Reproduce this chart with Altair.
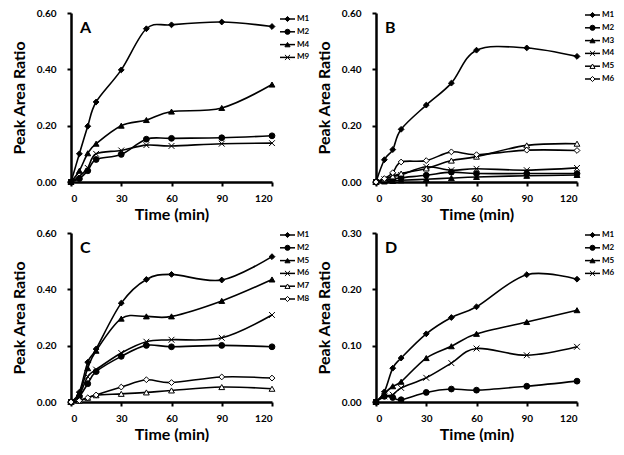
import altair as alt
import pandas as pd

TIME = [0, 5, 10, 15, 30, 45, 60, 90, 120]

# Panel A
A_NAMES = ["M1", "M2", "M4", "M9"]
A_STYLES = ["fdiamond", "fcircle", "ftriangle", "xcross"]
A_M1 = [0, 0.100, 0.198, 0.284, 0.398, 0.544, 0.558, 0.568, 0.552]
A_M2 = [0, 0.012, 0.040, 0.080, 0.098, 0.152, 0.155, 0.157, 0.164]
A_M4 = [0, 0.040, 0.102, 0.136, 0.200, 0.220, 0.250, 0.263, 0.346]
A_M9 = [0, 0.020, 0.050, 0.100, 0.112, 0.131, 0.128, 0.136, 0.138]

# Panel B
B_NAMES = ["M1", "M2", "M3", "M4", "M5", "M6"]
B_STYLES = ["fdiamond", "fcircle", "ftriangle", "xcross", "otriangle", "odiamond"]
B_M1 = [0, 0.079, 0.115, 0.187, 0.273, 0.351, 0.468, 0.476, 0.446]
B_M2 = [0, 0.005, 0.010, 0.015, 0.024, 0.035, 0.030, 0.030, 0.030]
B_M3 = [0, 0.002, 0.004, 0.006, 0.010, 0.014, 0.018, 0.022, 0.025]
B_M4 = [0, 0.010, 0.020, 0.025, 0.054, 0.042, 0.047, 0.042, 0.050]
B_M5 = [0, 0.010, 0.020, 0.030, 0.048, 0.076, 0.090, 0.130, 0.136]
B_M6 = [0, 0.012, 0.033, 0.071, 0.076, 0.107, 0.097, 0.113, 0.112]

# Panel C
C_NAMES = ["M1", "M2", "M5", "M6", "M7", "M8"]
C_STYLES = ["fdiamond", "fcircle", "ftriangle", "xcross", "otriangle", "odiamond"]
C_M1 = [0, 0.035, 0.141, 0.188, 0.351, 0.435, 0.453, 0.433, 0.516]
C_M2 = [0, 0.020, 0.065, 0.108, 0.162, 0.201, 0.196, 0.201, 0.196]
C_M5 = [0, 0.030, 0.120, 0.182, 0.296, 0.304, 0.304, 0.359, 0.435]
C_M6 = [0, 0.025, 0.090, 0.115, 0.174, 0.214, 0.221, 0.228, 0.309]
C_M7 = [0, 0.005, 0.015, 0.024, 0.029, 0.034, 0.041, 0.053, 0.047]
C_M8 = [0, 0.005, 0.015, 0.025, 0.053, 0.079, 0.069, 0.089, 0.085]

# Panel D
D_NAMES = ["M1", "M2", "M5", "M6"]
D_STYLES = ["fdiamond", "fcircle", "ftriangle", "xcross"]
D_M1 = [0, 0.018, 0.060, 0.078, 0.121, 0.150, 0.169, 0.226, 0.218]
D_M2 = [0, 0.010, 0.008, 0.004, 0.017, 0.023, 0.021, 0.028, 0.037]
D_M5 = [0, 0.015, 0.028, 0.036, 0.078, 0.099, 0.121, 0.142, 0.163]
D_M6 = [0, 0.010, 0.013, 0.025, 0.043, 0.069, 0.095, 0.083, 0.098]

Y_TICKS_06 = [0, 0.2, 0.4, 0.6]
Y_TICKS_03 = [0, 0.1, 0.2, 0.3]
X_TICKS = [0, 30, 60, 90, 120]

STYLE_KEYS = ["fdiamond", "fcircle", "ftriangle", "xcross", "otriangle", "odiamond"]
STYLE_SHAPES = ["diamond", "circle", "triangle-up", "M-1,-1L1,1M1,-1L-1,1", "triangle-up", "diamond"]
STYLE_FILLS = ["black", "black", "black", "white", "white", "white"]

FONT = "Lato"
W, H = 201, 169

AXIS_STYLE = dict(
    grid=False, domain=True, ticks=True,
    domainColor="black", domainWidth=2.5,
    tickColor="black", tickWidth=2, tickSize=4,
    labelFont=FONT, labelFontWeight="bold", labelFontSize=10, labelColor="black",
    titleFont=FONT, titleFontWeight="bold", titleFontSize=16, titleColor="black",
)


def make_panel(letter, names, styles, series, ymax, yticks, leg_start, letter_y):
    rows = []
    for name, style, vals in zip(names, styles, series):
        for t, v in zip(TIME, vals):
            rows.append({"time": t, "value": v, "series": name, "style": style})
    df = pd.DataFrame(rows)
    leg = pd.DataFrame({"series": names, "style": styles})

    x = alt.X("time:Q", scale=alt.Scale(domain=[0, 120], nice=False),
              axis=alt.Axis(values=X_TICKS, title="Time (min)", labelPadding=7, titlePadding=3,
                            **AXIS_STYLE))
    y = alt.Y("value:Q", scale=alt.Scale(domain=[0, ymax], nice=False),
              axis=alt.Axis(values=yticks, format=".2f", title="Peak Area Ratio",
                            labelPadding=11, titlePadding=9, **AXIS_STYLE))
    shape = alt.Shape("style:N", scale=alt.Scale(domain=STYLE_KEYS, range=STYLE_SHAPES), legend=None)
    fill = alt.Fill("style:N", scale=alt.Scale(domain=STYLE_KEYS, range=STYLE_FILLS), legend=None)

    lines = alt.Chart(df).mark_line(interpolate="cardinal", color="black", strokeWidth=1.6).encode(
        x=x, y=y, detail="series:N")
    pts = alt.Chart(df).mark_point(filled=True, stroke="black", strokeWidth=1, size=34, opacity=1).encode(
        x=x, y=y, shape=shape, fill=fill)
    data_layer = alt.layer(lines, pts)

    n = len(names)
    ly = alt.Y("series:N", sort=names,
               scale=alt.Scale(type="point", range=[leg_start, leg_start + 12.8 * (n - 1)], padding=0),
               axis=None)
    lrule = alt.Chart(leg).mark_rule(color="black", strokeWidth=1.5).encode(
        y=ly, x=alt.value(W + 8), x2=alt.value(W + 23))
    lpts = alt.Chart(leg).mark_point(filled=True, stroke="black", strokeWidth=1, size=26, opacity=1).encode(
        y=ly, x=alt.value(W + 15.5), shape=shape, fill=fill)
    ltext = alt.Chart(leg).mark_text(align="left", baseline="middle", fontSize=8, fontWeight="bold",
                                     font=FONT, color="black").encode(
        y=ly, x=alt.value(W + 25), text="series:N")
    legend_layer = alt.layer(lrule, lpts, ltext)

    lab = alt.Chart(pd.DataFrame({"label": [letter]})).mark_text(
        align="left", baseline="alphabetic", fontSize=16, fontWeight="bold", font=FONT, color="black").encode(
        x=alt.value(9), y=alt.value(letter_y), text="label:N")

    return alt.layer(data_layer, legend_layer, lab).resolve_scale(y="independent").properties(
        width=W, height=H)


pA = make_panel("A", A_NAMES, A_STYLES, [A_M1, A_M2, A_M4, A_M9], 0.6, Y_TICKS_06, 6, 20)
pB = make_panel("B", B_NAMES, B_STYLES, [B_M1, B_M2, B_M3, B_M4, B_M5, B_M6], 0.6, Y_TICKS_06, 2, 20)
pC = make_panel("C", C_NAMES, C_STYLES, [C_M1, C_M2, C_M5, C_M6, C_M7, C_M8], 0.6, Y_TICKS_06, 2, 20)
pD = make_panel("D", D_NAMES, D_STYLES, [D_M1, D_M2, D_M5, D_M6], 0.3, Y_TICKS_03, 2, 20)

chart = alt.concat(pA, pB, pC, pD, columns=2, spacing={"row": 6, "column": 6}).properties(
    padding={"left": 3, "top": 0, "right": 0, "bottom": 0}
).configure_view(stroke=None)

chart.save("out.html", embed_options={"renderer": "svg", "actions": False})
